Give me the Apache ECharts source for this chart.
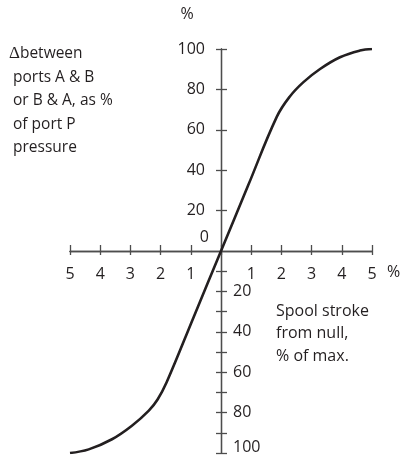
<!DOCTYPE html>
<html lang="en">
<head>
	<meta charset="UTF-8">
	<title>spool stroke</title>
	<style>
		html, body { margin: 0; padding: 0; background: #fff; }
		#chart { width: 401px; height: 456px; }
	</style>
</head>
<body>
	<div id="chart"></div>
	<script src="https://cdn.jsdelivr.net/npm/echarts@6/dist/echarts.min.js"></script>
	<script>
		// spool stroke (% of max, signed) vs pressure difference (% of P)
		var strokeX = [-5, -4.38, -3.61, -2.95, -2.39, -2.1, -1.8, -0.9, 0, 0.9, 1.85, 2.28, 2.73, 3.28, 3.94, 4.6, 5];
		var deltaP = [-100, -98.2, -93.2, -86.5, -79, -73.5, -65, -32.5, 0, 32.5, 66.5, 76.5, 83.6, 90.1, 95.9, 99.2, 100];

		var xTickValues = [-5, -4, -3, -2, -1, 0, 1, 2, 3, 4, 5];
		var yTickValues = [100, 80, 60, 40, 20, -10, -20, -30, -40, -50, -60, -70, -80, -90, -100];
		var yLabelsUp = [100, 80, 60, 40, 20, 0];
		var yLabelsDown = [-20, -40, -60, -80, -100];

		var ink = '#231f20';
		var axisGrey = '#4d4d4d';
		var font = 'Open Sans';

		// plot box; axes are shifted into the middle of it with offset
		var gLeft = 70, gWidth = 302, gTop = 49, gHeight = 404;
		var midX = gWidth / 2, midY = gHeight / 2;

		var chart = echarts.init(document.getElementById('chart'), null, { renderer: 'canvas' });

		var points = [];
		for (var i = 0; i < strokeX.length; i++) {
			points.push([strokeX[i], deltaP[i]]);
		}

		var option = {
			backgroundColor: '#fff',
			animation: false,
			textStyle: { fontFamily: font },
			grid: { left: gLeft, width: gWidth, top: gTop, height: gHeight, outerBoundsMode: 'none', containLabel: false },
			xAxis: [
				{
					type: 'value', min: -5, max: 5, interval: 1, position: 'bottom', offset: -midY,
					axisLine: { onZero: false, lineStyle: { color: axisGrey, width: 1.3 } },
					axisTick: { length: 4, lineStyle: { color: axisGrey, width: 1.3 } },
					axisLabel: {
						margin: 15, fontSize: 16, color: ink, fontFamily: font,
						customValues: xTickValues,
						formatter: function (v) { return v === 0 ? '' : Math.abs(v); }
					},
					splitLine: { show: false },
					name: '%', nameLocation: 'end', nameGap: 15,
					nameTextStyle: { fontSize: 16, color: ink, fontFamily: font, verticalAlign: 'top', lineHeight: 43 }
				},
				{
					type: 'value', min: -5, max: 5, interval: 1, position: 'top', offset: -midY,
					axisLine: { onZero: false, lineStyle: { color: axisGrey, width: 1.3 } },
					axisTick: { length: 6, lineStyle: { color: axisGrey, width: 1.3 } },
					axisLabel: { show: false },
					splitLine: { show: false }
				}
			],
			yAxis: [
				{
					type: 'value', min: -100, max: 100, interval: 20, position: 'left', offset: -midX,
					axisLine: { onZero: false, lineStyle: { color: axisGrey, width: 1.3 } },
					axisTick: { length: 5, customValues: yTickValues, lineStyle: { color: axisGrey, width: 1.3 } },
					axisLabel: {
						margin: 12, fontSize: 16, color: ink, fontFamily: font,
						customValues: yLabelsUp,
						formatter: function (v) { return v === 0 ? '{z|0}' : '{n|' + v + '}'; },
						rich: {
							n: { fontSize: 16, color: ink, fontFamily: font, padding: [0, 4, 0, 0] },
							z: { fontSize: 16, color: ink, fontFamily: font, padding: [0, 0, 28, 0] }
						}
					},
					splitLine: { show: false },
					name: '%', nameLocation: 'end', nameGap: 27,
					nameTextStyle: { fontSize: 16, color: ink, fontFamily: font, padding: [0, 68, 0, 0] }
				},
				{
					type: 'value', min: -100, max: 100, interval: 20, position: 'right', offset: -midX,
					axisLine: { onZero: false, lineStyle: { color: axisGrey, width: 1.3 } },
					axisTick: { length: 6, customValues: yTickValues, lineStyle: { color: axisGrey, width: 1.3 } },
					axisLabel: {
						margin: 12, fontSize: 16, color: ink, fontFamily: font,
						customValues: yLabelsDown,
						formatter: function (v) { return v === -100 ? '{e|100}' : Math.abs(v); },
						rich: {
							e: { fontSize: 16, color: ink, fontFamily: font, padding: [0, 0, 12, 0] }
						}
					},
					splitLine: { show: false }
				}
			],
			graphic: [
				{
					type: 'text', left: 9, top: 42,
					style: {
						text: '{d|\u0394}between\n ports A & B\n or B & A, as %\n of port P\n pressure',
						fontSize: 15.5, fontFamily: font, fill: ink, lineHeight: 23.5,
						rich: {
							d: { fontSize: 17, fontFamily: 'Liberation Serif', fill: ink, lineHeight: 23.5 }
						}
					}
				},
				{
					type: 'text', left: 276, top: 300,
					style: {
						text: 'Spool stroke\nfrom null,\n% of max.',
						fontSize: 16, fontFamily: font, fill: ink, lineHeight: 22.5
					}
				}
			],
			series: [
				{
					type: 'line',
					xAxisIndex: 0,
					yAxisIndex: 0,
					data: points,
					smooth: 0.4,
					showSymbol: false,
					lineStyle: { color: ink, width: 2.6 }
				}
			]
		};

		chart.setOption(option);
	</script>
</body>
</html>
